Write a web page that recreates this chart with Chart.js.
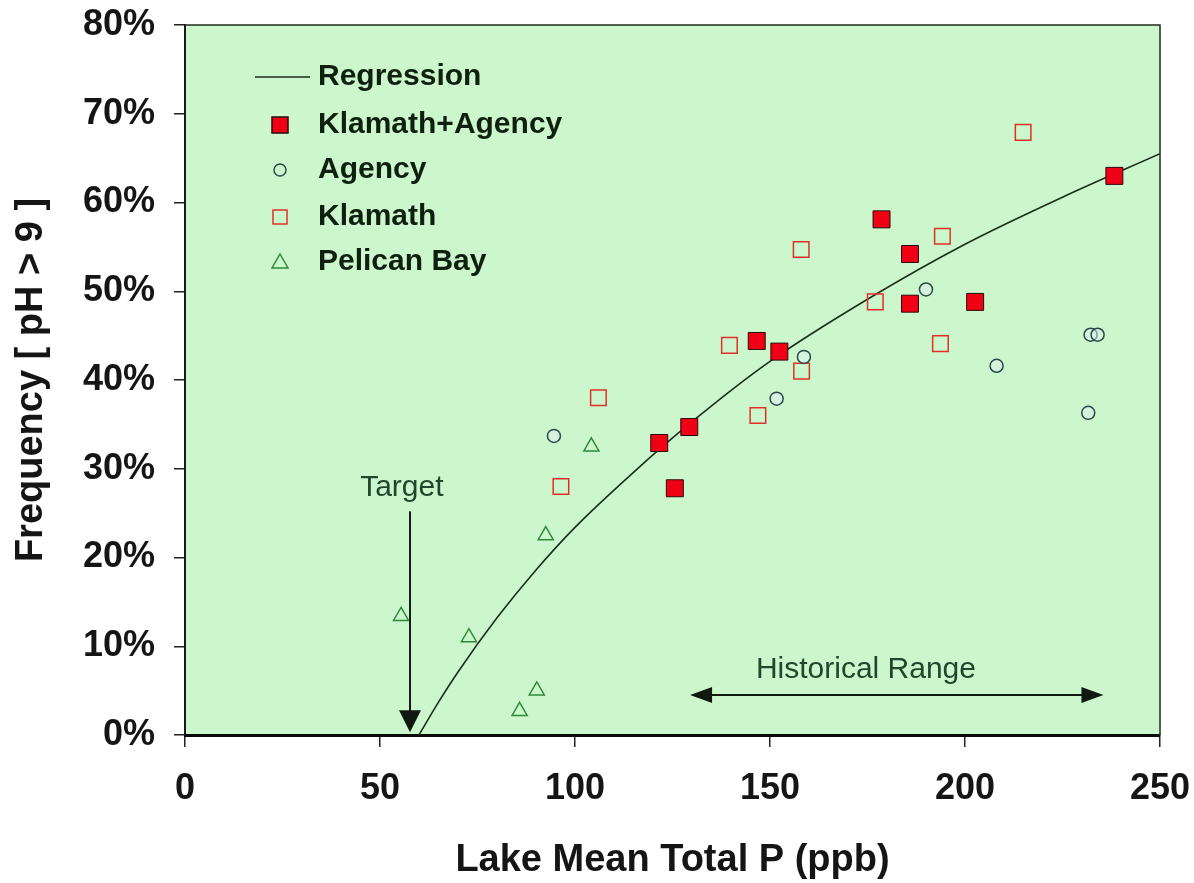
<!DOCTYPE html>
<html>
<head>
<meta charset="utf-8">
<title>Frequency of pH &gt; 9 vs Lake Mean Total P</title>
<script src="https://cdn.jsdelivr.net/npm/chart.js"></script>
<style>
  body { margin: 0; background: #fff; }
  canvas { display: block; }
</style>
</head>
<body>
<canvas id="phChart" width="1194" height="883"></canvas>
<script>
// Klamath+Agency combined (filled red squares)
var kaX = [121.6, 125.6, 129.3, 146.6, 152.4, 178.6, 185.9, 185.9, 202.6, 238.3];
var kaY = [32.9, 27.8, 34.7, 44.4, 43.2, 58.1, 54.2, 48.6, 48.8, 63.0];
// Agency (open circles)
var agX = [94.6, 151.7, 158.7, 190.0, 208.1, 232.2, 234.0, 231.6];
var agY = [33.7, 37.9, 42.6, 50.2, 41.6, 45.1, 45.1, 36.3];
// Klamath (open red squares)
var klX = [96.4, 106.0, 139.6, 146.9, 158.0, 158.1, 177.0, 193.7, 194.2, 214.9];
var klY = [28.0, 38.0, 43.9, 36.0, 54.7, 41.0, 48.8, 44.1, 56.2, 67.9];
// Pelican Bay (open triangles)
var pbX = [55.4, 72.8, 85.8, 90.2, 92.5, 104.2];
var pbY = [13.4, 11.0, 2.7, 5.0, 22.5, 32.5];
// regression curve
var regX = [60, 65, 70, 80, 90, 100, 115, 130, 150, 175, 200, 225, 250];
var regY = [0, 3.7, 7.1, 13.2, 18.6, 23.4, 29.6, 35.3, 42.1, 49.1, 55.3, 60.6, 65.5];

var xTicks = [0, 50, 100, 150, 200, 250];
var yTicks = [0, 10, 20, 30, 40, 50, 60, 70, 80];

// notes on the plot: [x, y] in data units
var targetLabel = [55.6, 27.9];
var targetArrow = [57.7, 25.2, 0.3];      // x, from y, to y
var histLabel = [174.6, 7.3];
var histArrow = [129.5, 235.5, 4.5];      // from x, to x, y

var legendItems = ['Regression', 'Klamath+Agency', 'Agency', 'Klamath', 'Pelican Bay'];

function pts(xs, ys) {
    return xs.map(function (v, i) { return { x: v, y: ys[i] }; });
}

var plotBg = {
    id: 'plotBg',
    beforeDraw: function (chart) {
        var a = chart.chartArea, ctx = chart.ctx;
        ctx.save();
        ctx.fillStyle = 'rgb(204, 247, 204)';
        ctx.fillRect(a.left, a.top, a.right - a.left, a.bottom - a.top);
        ctx.restore();
    },
    afterDraw: function (chart) {
        var a = chart.chartArea, ctx = chart.ctx;
        ctx.save();
        ctx.strokeStyle = '#1e2e1e';
        ctx.lineWidth = 1.5;
        ctx.beginPath();
        ctx.moveTo(a.left, a.top);
        ctx.lineTo(a.right, a.top);
        ctx.lineTo(a.right, a.bottom);
        ctx.stroke();
        ctx.restore();
    }
};

function arrowHead(ctx, x, y, dx, dy, len, half) {
    // tip at (x, y), pointing along (dx, dy)
    ctx.beginPath();
    ctx.moveTo(x, y);
    ctx.lineTo(x - dx * len - dy * half, y - dy * len - dx * half);
    ctx.lineTo(x - dx * len + dy * half, y - dy * len + dx * half);
    ctx.closePath();
    ctx.fill();
}

var notes = {
    id: 'notes',
    afterDatasetsDraw: function (chart) {
        var ctx = chart.ctx, sx = chart.scales.x, sy = chart.scales.y;
        ctx.save();
        ctx.strokeStyle = '#101810';
        ctx.fillStyle = '#101810';
        ctx.lineWidth = 2;

        var tx = sx.getPixelForValue(targetArrow[0]);
        var tTop = sy.getPixelForValue(targetArrow[1]);
        var tTip = sy.getPixelForValue(targetArrow[2]);
        ctx.beginPath();
        ctx.moveTo(tx, tTop);
        ctx.lineTo(tx, tTip - 18);
        ctx.stroke();
        arrowHead(ctx, tx, tTip, 0, 1, 22, 11);

        var hy = sy.getPixelForValue(histArrow[2]);
        var h1 = sx.getPixelForValue(histArrow[0]);
        var h2 = sx.getPixelForValue(histArrow[1]);
        ctx.beginPath();
        ctx.moveTo(h1 + 15, hy);
        ctx.lineTo(h2 - 15, hy);
        ctx.stroke();
        arrowHead(ctx, h1, hy, -1, 0, 22, 8);
        arrowHead(ctx, h2, hy, 1, 0, 22, 8);

        ctx.fillStyle = '#23452b';
        ctx.font = '30px "Liberation Sans", Arial, sans-serif';
        ctx.textAlign = 'center';
        ctx.textBaseline = 'middle';
        ctx.fillText('Target', sx.getPixelForValue(targetLabel[0]), sy.getPixelForValue(targetLabel[1]));
        ctx.fillText('Historical Range', sx.getPixelForValue(histLabel[0]), sy.getPixelForValue(histLabel[1]));
        ctx.restore();
    }
};

// legend box in the upper left of the plot
var plotLegend = {
    id: 'plotLegend',
    afterDraw: function (chart) {
        var ctx = chart.ctx, a = chart.chartArea;
        var mx = a.left + 95, tx = a.left + 133;
        var rows = [52, 100, 145, 192, 237];
        ctx.save();
        ctx.font = 'bold 30px "Liberation Sans", Arial, sans-serif';
        ctx.textBaseline = 'middle';
        ctx.textAlign = 'left';
        legendItems.forEach(function (name, i) {
            var y = a.top + rows[i];
            ctx.lineWidth = 1.5;
            if (i === 0) {
                ctx.strokeStyle = '#1a2e1a';
                ctx.beginPath();
                ctx.moveTo(a.left + 70, y);
                ctx.lineTo(a.left + 125, y);
                ctx.stroke();
            } else if (i === 1) {
                ctx.fillStyle = '#f00014';
                ctx.strokeStyle = '#2a0a0a';
                ctx.fillRect(mx - 8, y - 8, 16, 16);
                ctx.strokeRect(mx - 8, y - 8, 16, 16);
            } else if (i === 2) {
                ctx.strokeStyle = '#2b474c';
                ctx.beginPath();
                ctx.arc(mx, y, 6, 0, Math.PI * 2);
                ctx.stroke();
            } else if (i === 3) {
                ctx.strokeStyle = '#e0302c';
                ctx.strokeRect(mx - 7, y - 7, 14, 14);
            } else {
                ctx.strokeStyle = '#2e8a3a';
                ctx.beginPath();
                ctx.moveTo(mx, y - 8);
                ctx.lineTo(mx + 8, y + 6);
                ctx.lineTo(mx - 8, y + 6);
                ctx.closePath();
                ctx.stroke();
            }
            ctx.fillStyle = '#102010';
            ctx.fillText(name, tx, y);
        });
        ctx.restore();
    }
};

Chart.defaults.font.family = '"Liberation Sans", Arial, sans-serif';

var phCanvas = document.getElementById('phChart');
var phChart = new Chart(phCanvas, {
    type: 'scatter',
    data: {
        datasets: [{
            label: 'Klamath+Agency',
            data: pts(kaX, kaY),
            pointStyle: 'rect',
            pointRadius: 12,
            backgroundColor: '#f00014',
            borderColor: '#2a0a0a',
            borderWidth: 1
        }, {
            label: 'Agency',
            data: pts(agX, agY),
            pointStyle: 'circle',
            pointRadius: 6.5,
            backgroundColor: 'rgba(220, 242, 240, 0.5)',
            borderColor: '#2b474c',
            borderWidth: 1.5
        }, {
            label: 'Klamath',
            data: pts(klX, klY),
            pointStyle: 'rect',
            pointRadius: 11,
            backgroundColor: 'rgba(0,0,0,0)',
            borderColor: '#e0302c',
            borderWidth: 1.5
        }, {
            label: 'Pelican Bay',
            data: pts(pbX, pbY),
            pointStyle: 'triangle',
            pointRadius: 8.7,
            backgroundColor: 'rgba(0,0,0,0)',
            borderColor: '#2e8a3a',
            borderWidth: 1.5
        }, {
            label: 'Regression',
            type: 'line',
            data: pts(regX, regY),
            showLine: true,
            pointRadius: 0,
            borderColor: '#1a2e1a',
            borderWidth: 1.6,
            cubicInterpolationMode: 'monotone',
            fill: false
        }]
    },
    options: {
        responsive: false,
        animation: false,
        layout: { padding: { top: 25, right: 34, left: 0, bottom: 0 } },
        plugins: {
            legend: { display: false },
            tooltip: { enabled: false }
        },
        scales: {
            x: {
                type: 'linear',
                min: 0,
                max: 250,
                afterBuildTicks: function (axis) {
                    axis.ticks = xTicks.map(function (v) { return { value: v }; });
                },
                afterFit: function (scale) {
                    scale.height = 148;
                    scale.paddingLeft = 0;
                    scale.paddingRight = 0;
                },
                grid: { drawOnChartArea: false, tickLength: 12, color: '#222', lineWidth: 1.5 },
                border: { display: true, color: '#0a0a0a', width: 3 },
                ticks: {
                    padding: 20,
                    color: '#151515',
                    font: { size: 36, weight: 'bold' }
                },
                title: {
                    display: true,
                    text: 'Lake Mean Total P (ppb)',
                    color: '#151515',
                    font: { size: 38, weight: 'bold' },
                    padding: { top: 0, bottom: 0 }
                }
            },
            y: {
                min: 0,
                max: 80,
                afterBuildTicks: function (axis) {
                    axis.ticks = yTicks.map(function (v) { return { value: v }; });
                },
                afterFit: function (scale) {
                    scale.width = 185;
                    scale.paddingTop = 0;
                    scale.paddingBottom = 0;
                },
                grid: { drawOnChartArea: false, tickLength: 11, color: '#222', lineWidth: 1.5 },
                border: { display: true, color: '#1a1a1a', width: 2 },
                ticks: {
                    padding: 19,
                    color: '#151515',
                    font: { size: 36, weight: 'bold' },
                    callback: function (v) { return v + '%'; }
                },
                title: {
                    display: true,
                    text: 'Frequency [ pH > 9 ]',
                    color: '#151515',
                    font: { size: 38, weight: 'bold' },
                    padding: { top: 9, bottom: 0 }
                }
            }
        }
    },
    plugins: [plotBg, notes, plotLegend]
});
</script>
</body>
</html>
